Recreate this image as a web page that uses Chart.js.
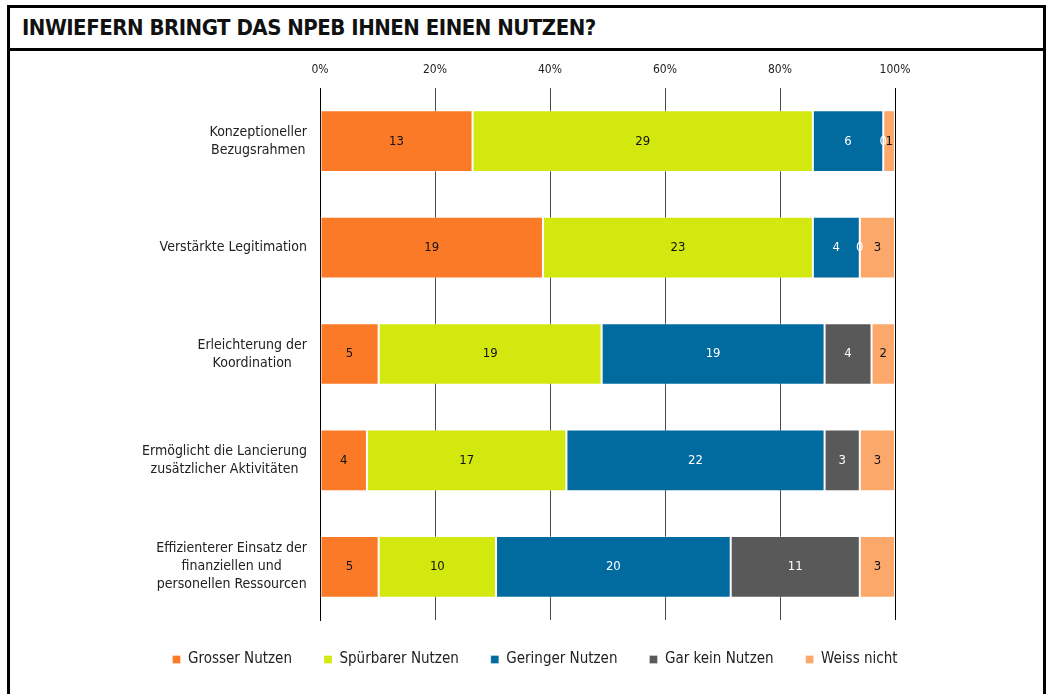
<!DOCTYPE html>
<html>
<head>
<meta charset="utf-8">
<script src="https://cdn.jsdelivr.net/npm/chart.js@4.4.0/dist/chart.umd.min.js"></script>
<style>
  body { margin: 0; background: #fff; }
  #wrap { position: relative; width: 1048px; height: 694px; overflow: hidden; background: #fff; }
  #frame { position: absolute; left: 7px; top: 5px; width: 1033px; height: 720px; border: 3px solid #000; }
  #title {
    position: absolute; left: 22px; top: 15px;
    font-family: "DejaVu Sans Condensed", sans-serif;
    font-weight: bold; font-size: 22px; letter-spacing: -0.5px; color: #111;
  }
  #rule { position: absolute; left: 7px; top: 48px; width: 1039px; height: 3px; background: #000; }
  canvas { position: absolute; left: 0; top: 0; }
</style>
</head>
<body>
<div id="wrap">
  <div id="frame"></div>
  <div id="title">INWIEFERN BRINGT DAS NPEB IHNEN EINEN NUTZEN?</div>
  <div id="rule"></div>
  <canvas id="chart" width="1048" height="694"></canvas>
</div>
<script>
const FONT = "'DejaVu Sans Condensed', sans-serif";

const categories = [
    ["Konzeptioneller", "Bezugsrahmen"],
    ["Verstärkte Legitimation"],
    ["Erleichterung der", "Koordination"],
    ["Ermöglicht die Lancierung", "zusätzlicher Aktivitäten"],
    ["Effizienterer Einsatz der", "finanziellen und", "personellen Ressourcen"]
];

const seriesNames = ["Grosser Nutzen", "Spürbarer Nutzen", "Geringer Nutzen", "Gar kein Nutzen", "Weiss nicht"];

const grosser = [13, 19, 5, 4, 5];
const spuerbar = [29, 23, 19, 17, 10];
const gering = [6, 4, 19, 22, 20];
const garKein = [0, 0, 4, 3, 11];
const weiss = [1, 3, 2, 3, 3];

const xTicks = [0, 20, 40, 60, 80, 100];

const colors = ["#fb7a28", "#d2e80f", "#016ba0", "#595959", "#fca86a"];
const labelColors = ["#111", "#111", "#fff", "#fff", "#111"];

const counts = [grosser, spuerbar, gering, garKein, weiss];
const totals = categories.map((_, i) => counts.reduce((s, arr) => s + arr[i], 0));

// share of each answer per row, so every bar fills 100%
const datasets = counts.map((arr, k) => ({
    label: seriesNames[k],
    data: arr.map((v, i) => v / totals[i] * 100),
    counts: arr,
    backgroundColor: colors[k],
    borderColor: "rgba(255,255,255,0.3)",
    borderWidth: 1,
    borderSkipped: false,
    barPercentage: 0.58,
    categoryPercentage: 1
}));

// value labels (counts) in the middle of each segment
const countLabels = {
    id: "countLabels",
    afterDatasetsDraw(chart) {
        const ctx = chart.ctx;
        ctx.save();
        ctx.font = "13px " + FONT;
        ctx.textAlign = "center";
        ctx.textBaseline = "middle";
        chart.data.datasets.forEach((ds, k) => {
            const meta = chart.getDatasetMeta(k);
            ctx.fillStyle = labelColors[k];
            meta.data.forEach((bar, i) => {
                ctx.fillText(ds.counts[i], (bar.x + bar.base) / 2, bar.y);
            });
        });
        ctx.restore();
    }
};

// category labels: block right aligned, lines centred inside the block
const rowLabels = {
    id: "rowLabels",
    afterDraw(chart) {
        const ctx = chart.ctx;
        const yScale = chart.scales.y;
        const right = chart.chartArea.left - 13;
        const lineH = 18;
        ctx.save();
        ctx.font = "14px " + FONT;
        ctx.fillStyle = "#222";
        ctx.textAlign = "center";
        ctx.textBaseline = "middle";
        chart.data.labels.forEach((lines, i) => {
            const y = yScale.getPixelForTick(i);
            const w = Math.max(...lines.map(l => ctx.measureText(l).width));
            const cx = right - w / 2;
            lines.forEach((l, j) => {
                ctx.fillText(l, cx, y + (j - (lines.length - 1) / 2) * lineH);
            });
        });
        ctx.restore();
    }
};

new Chart(document.getElementById("chart"), {
    type: "bar",
    data: {
        labels: categories,
        datasets: datasets
    },
    plugins: [countLabels, rowLabels],
    options: {
        indexAxis: "y",
        responsive: false,
        animation: false,
        layout: { padding: { top: 50, left: 22, right: 0, bottom: 17 } },
        scales: {
            x: {
                position: "top",
                stacked: true,
                min: 0,
                max: 100,
                afterBuildTicks: (scale) => { scale.ticks = xTicks.map(v => ({ value: v })); },
                afterFit: (scale) => { scale.height = 38; },
                ticks: {
                    padding: 11,
                    color: "#222",
                    font: { family: FONT, size: 12 },
                    callback: (v) => v + "%"
                },
                grid: {
                    drawTicks: false,
                    color: (c) => (c.tick && (c.tick.value === 0 || c.tick.value === 100)) ? "#000" : "#4a4a4a",
                    lineWidth: 1
                },
                border: { display: false }
            },
            y: {
                stacked: true,
                afterFit: (scale) => { scale.width = 298; },
                ticks: { display: false },
                grid: { display: false },
                border: { display: true, color: "#000", width: 1 }
            },
            // empty right margin so the plot ends at 100% where the reference does
            yRight: {
                type: "category",
                position: "right",
                afterFit: (scale) => { scale.width = 153; },
                ticks: { display: false },
                grid: { display: false },
                border: { display: false }
            }
        },
        plugins: {
            legend: {
                position: "bottom",
                labels: {
                    boxWidth: 8,
                    boxHeight: 8,
                    padding: 32,
                    color: "#222",
                    font: { family: FONT, size: 15 }
                }
            },
            tooltip: { enabled: false }
        }
    }
});
</script>
</body>
</html>
